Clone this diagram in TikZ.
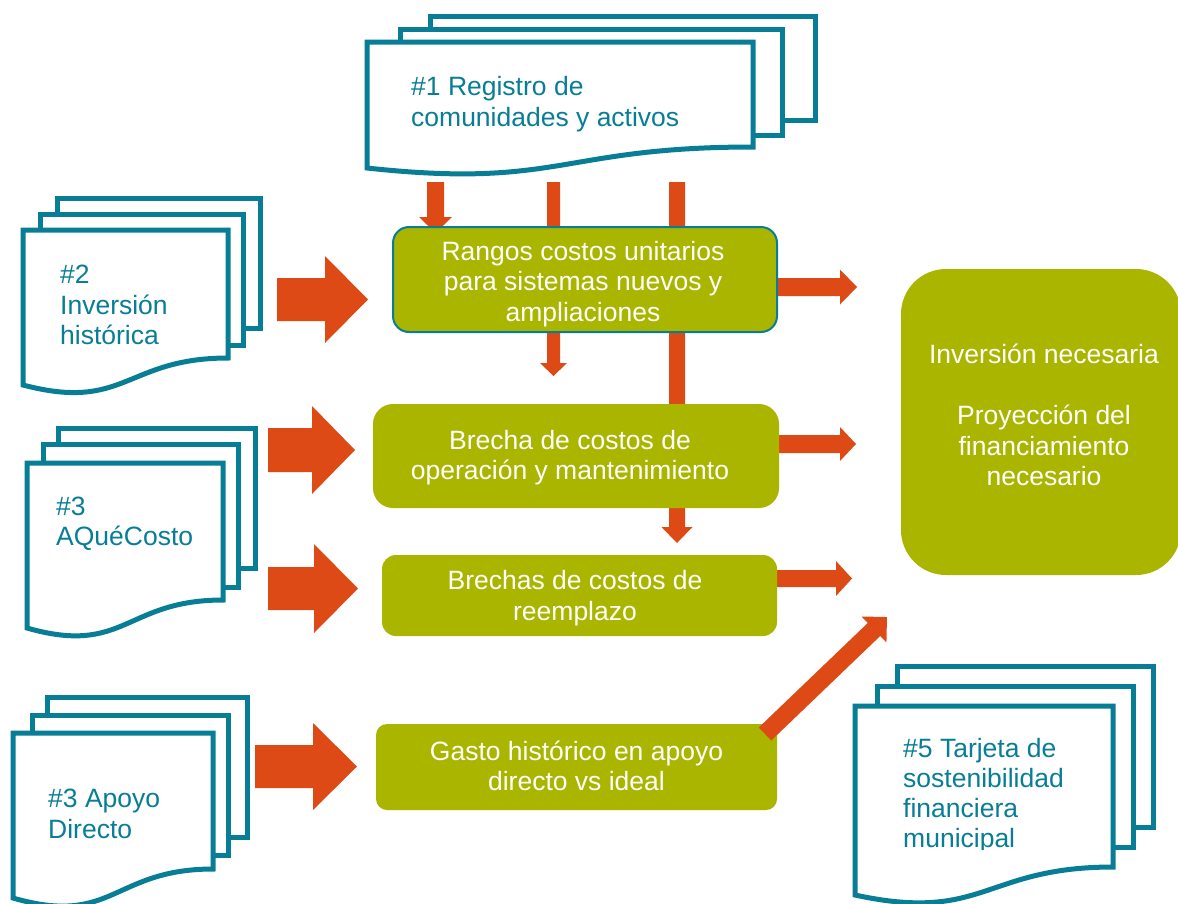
\documentclass[tikz,border=0pt]{standalone}
\usepackage{fontspec}
\setmainfont{Liberation Sans}
\definecolor{tealA}{RGB}{8,126,150}
\definecolor{greenA}{RGB}{170,181,0}
\definecolor{orangeA}{RGB}{222,74,22}
\tikzset{
  docpage/.style={draw=tealA, line width=5pt, fill=white, miter limit=10},
  doctext/.style={text=tealA, font=\fontsize{26.5}{30.5}\selectfont, align=left, anchor=west, inner sep=0pt},
  gbox/.style={fill=greenA, inner sep=0pt},
  gtext/.style={text=white, font=\fontsize{26.5}{30.5}\selectfont, align=center, inner sep=0pt},
  pics/barrow/.style args={#1/#2/#3/#4}{code={
    \fill[orangeA] (0,-#2) -- ({#1-#4},-#2) -- ({#1-#4},-#3) -- (#1,0) -- ({#1-#4},#3) -- ({#1-#4},#2) -- (0,#2) -- cycle;
  }}
}
\begin{document}
\begin{tikzpicture}[x=1pt,y=-1pt]
\useasboundingbox (0,0) rectangle (1178,903);
\clip (0,0) rectangle (1178,903);
\fill[white] (0,0) rectangle (1178,903);

% ---- documents ----
% doc1
\path[docpage] (430,16) rectangle (815,120);
\path[docpage] (400,29) rectangle (782,135);
\path[docpage] (367,42) -- (753,42) -- (753,147) .. controls (560,147) and (560,189) .. (367,168) -- cycle;
\node[doctext] (d1) at (411,104) {\#1 Registro de\\comunidades y activos};
% doc2
\path[docpage] (57,198) rectangle (260,328);
\path[docpage] (40,214) rectangle (243,345);
\path[docpage] (23,230) -- (228,230) -- (228,358) .. controls (125.5,358) and (125.5,412) .. (23,385) -- cycle;
\node[doctext] (d2) at (60,305) {\#2\\Inversión\\histórica};
% doc3
\path[docpage] (58,428) rectangle (255,568);
\path[docpage] (43,444) rectangle (238,587);
\path[docpage] (27,463) -- (223,463) -- (223,600) .. controls (125,600) and (125,656) .. (27,628) -- cycle;
\node[doctext] (d3) at (56,523.5) {\#3\\AQuéCosto};
% doc4
\path[docpage] (47,697) rectangle (247,837);
\path[docpage] (32,715) rectangle (228,855);
\path[docpage] (13,733) -- (213,733) -- (213,869) .. controls (113,869) and (113,927) .. (13,898) -- cycle;
\node[doctext] (d4) at (48,814) {\#3 Apoyo\\Directo};
% doc5
\path[docpage] (897,666) rectangle (1153,827);
\path[docpage] (877,686) rectangle (1133,847);
\path[docpage] (855,706) -- (1113,706) -- (1113,867) .. controls (984,867) and (984,923) .. (855,895) -- cycle;
\begin{scope}
\clip (850,700) rectangle (1110,849);
\node[doctext, font=\fontsize{26.5}{30}\selectfont] (d5) at (903,796) {\#5 Tarjeta de\\sostenibilidad\\financiera\\municipal};
\end{scope}

% ---- big arrows ----
\pic at (277,299.5) {barrow=91/21.5/43.5/43};
\pic at (268,450) {barrow=87/22/44/43};
\pic at (268,588.5) {barrow=90/21.5/44.5/44};
\pic at (255,766.5) {barrow=102/21.5/43.5/44};

% ---- down arrows ----
\pic[rotate=-90] at (435.5,182) {barrow=51/8.5/16.5/16};
\pic[rotate=-90] at (553.5,182) {barrow=194/6.5/13.5/13};
\pic[rotate=-90] at (677,182) {barrow=361/8/15.5/16};

% ---- right small arrows ----
\pic at (770,287) {barrow=87/9/17.5/17};
\pic at (770,444) {barrow=86/9/17/16};
\pic at (770,578.5) {barrow=82/8.5/17.5/16};

% ---- boxes ----
\node[gbox, draw=tealA, line width=2pt, rounded corners=16pt, minimum width=384pt, minimum height=105pt] (b1) at (585,279.5) {};
\node[gtext] (b1t) at (583,284) {Rangos costos unitarios\\para sistemas nuevos y\\ampliaciones};
\node[gbox, rounded corners=20pt, minimum width=406pt, minimum height=104pt] (b2) at (576,456) {};
\node[gtext] (b2t) at (570,457.5) {Brecha de costos de\\operación y mantenimiento};
\node[gbox, rounded corners=14pt, minimum width=395pt, minimum height=81pt] (b3) at (579.5,595.5) {};
\node[gtext] (b3t) at (575,598) {Brechas de costos de\\reemplazo};
\node[gbox, rounded corners=11pt, minimum width=401pt, minimum height=86pt] (b4) at (576.5,767) {};
\node[gtext] (b4t) at (576.5,766) {Gasto histórico en apoyo\\directo vs ideal};
\node[gbox, rounded corners=45pt, minimum width=280pt, minimum height=306pt] (big) at (1041,422) {};
\node[gtext] (bigt) at (1044,415) {Inversión necesaria\\\mbox{}\\Proyección del\\financiamiento\\necesario};

% ---- diagonal arrow ----
\pic[rotate=43.8] at (765,734) {barrow=169/9/18/18};
\end{tikzpicture}
\end{document}
